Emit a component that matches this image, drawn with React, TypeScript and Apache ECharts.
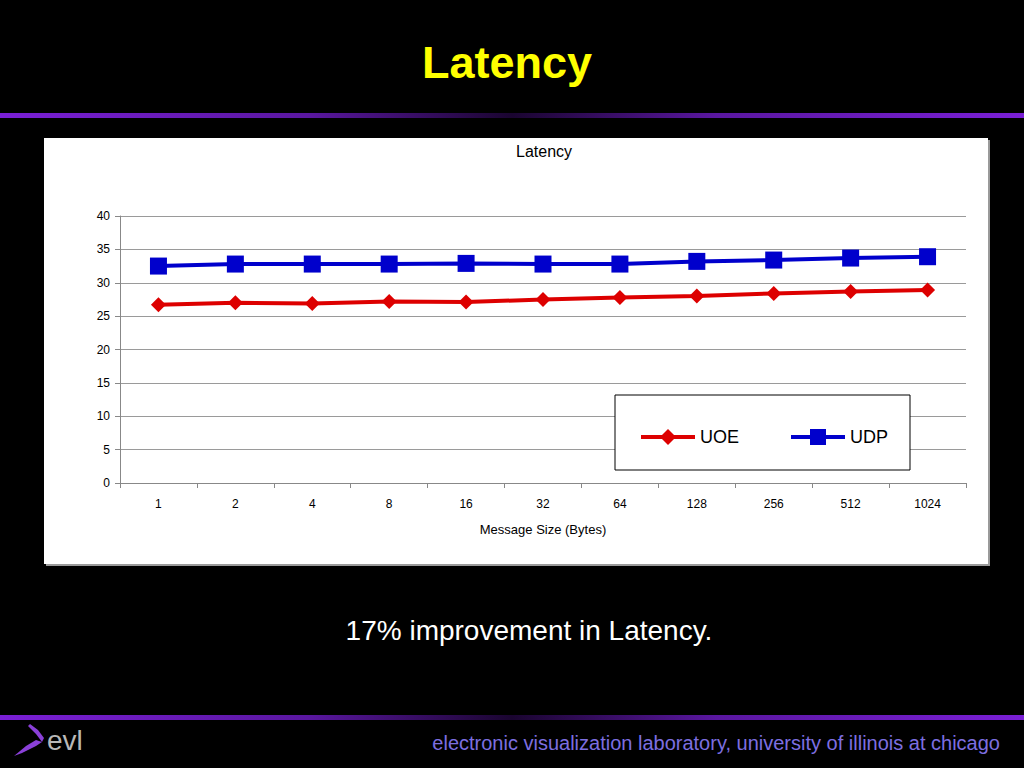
import React, { useEffect, useRef } from "react";
import * as echarts from "echarts";

const categories = ["1", "2", "4", "8", "16", "32", "64", "128", "256", "512", "1024"];
const uoeValues = [26.7, 27.0, 26.9, 27.2, 27.1, 27.5, 27.8, 28.0, 28.4, 28.7, 28.9];
const udpValues = [32.5, 32.8, 32.8, 32.8, 32.9, 32.8, 32.8, 33.2, 33.4, 33.7, 33.9];
const yTicks = { min: 0, max: 40, interval: 5 };

const FONT = "Liberation Sans, Arial, sans-serif";
const purpleGrad = () =>
  new echarts.graphic.LinearGradient(0, 0, 1, 0, [
    { offset: 0, color: "#7a1fd6" },
    { offset: 0.3, color: "#5a17a0" },
    { offset: 0.5, color: "#1a0530" },
    { offset: 0.7, color: "#5a17a0" },
    { offset: 1, color: "#7a1fd6" },
  ]);

export default function App() {
  const ref = useRef<HTMLDivElement>(null);
  useEffect(() => {
    if (!ref.current) return;
    const chart = echarts.init(ref.current, null, { renderer: "svg" });
    chart.setOption({
      animation: false,
      backgroundColor: "#000000",
      title: {
        text: "Latency",
        left: 544,
        top: 143,
        padding: 0,
        textAlign: "center",
        textStyle: { fontFamily: FONT, fontSize: 16, fontWeight: "normal", color: "#000" },
      },
      graphic: [
        {
          type: "text",
          x: 507,
          y: 62,
          style: {
            text: "Latency",
            fill: "#ffff00",
            font: `bold 45px ${FONT}`,
            align: "center",
            verticalAlign: "middle",
          },
        },
        { type: "rect", shape: { x: 0, y: 113, width: 1024, height: 5 }, style: { fill: purpleGrad() } },
        { type: "rect", shape: { x: 0, y: 715, width: 1024, height: 5 }, style: { fill: purpleGrad() } },
        { type: "rect", z: -2, shape: { x: 46, y: 140, width: 944, height: 426 }, style: { fill: "#9a9a9a" } },
        { type: "rect", z: -1, shape: { x: 44, y: 138, width: 944, height: 426 }, style: { fill: "#ffffff" } },
        {
          type: "rect",
          z: 1,
          shape: { x: 615, y: 395, width: 295, height: 75 },
          style: { fill: "#ffffff", stroke: "#000000", lineWidth: 1 },
        },
        {
          type: "text",
          x: 529,
          y: 630,
          style: {
            text: "17% improvement in Latency.",
            fill: "#ffffff",
            font: `28px ${FONT}`,
            align: "center",
            verticalAlign: "middle",
          },
        },
        {
          type: "text",
          x: 1000,
          y: 743,
          style: {
            text: "electronic visualization laboratory, university of illinois at chicago",
            fill: "#7d6fe0",
            font: `20px ${FONT}`,
            align: "right",
            verticalAlign: "middle",
          },
        },
        {
          type: "text",
          x: 47,
          y: 740,
          style: { text: "evl", fill: "#b8b8b8", font: `28px ${FONT}`, verticalAlign: "middle" },
        },
        {
          type: "polygon",
          shape: {
            points: [
              [14, 756], [26, 746], [36, 740], [42, 742], [36, 746], [22, 753],
            ],
          },
          style: { fill: "#8a40d8" },
        },
        {
          type: "polygon",
          shape: {
            points: [
              [30, 724], [38, 730], [44, 738], [42, 742], [36, 734], [28, 726],
            ],
          },
          style: { fill: "#8a40d8" },
        },
      ],
      legend: {
        left: 634,
        top: 423,
        itemWidth: 54,
        itemHeight: 20,
        itemGap: 50,
        z: 5,
        lineStyle: { width: 4 },
        textStyle: { fontFamily: FONT, fontSize: 18, color: "#000" },
        data: ["UOE", "UDP"],
      },
      grid: { left: 120, top: 216, width: 846, height: 267, containLabel: false },
      xAxis: {
        type: "category",
        data: categories,
        boundaryGap: true,
        name: "Message Size (Bytes)",
        nameLocation: "middle",
        nameGap: 40,
        nameTextStyle: { fontFamily: FONT, fontSize: 13, color: "#000" },
        axisLine: { lineStyle: { color: "#888", width: 1 } },
        axisTick: { show: true, alignWithLabel: false, length: 5, lineStyle: { color: "#888" } },
        axisLabel: { fontFamily: FONT, fontSize: 12, color: "#000", margin: 15 },
        splitLine: { show: false },
      },
      yAxis: {
        type: "value",
        min: yTicks.min,
        max: yTicks.max,
        interval: yTicks.interval,
        axisLine: { show: true, lineStyle: { color: "#888", width: 1 } },
        axisTick: { show: true, length: 5, lineStyle: { color: "#888" } },
        axisLabel: { fontFamily: FONT, fontSize: 12, color: "#000", margin: 10 },
        splitLine: { show: true, lineStyle: { color: "#9a9a9a", width: 1 } },
      },
      series: [
        {
          name: "UOE",
          type: "line",
          data: uoeValues,
          symbol: "diamond",
          symbolSize: 15,
          color: "#dd0000",
          lineStyle: { color: "#dd0000", width: 4 },
          itemStyle: { color: "#dd0000" },
        },
        {
          name: "UDP",
          type: "line",
          data: udpValues,
          symbol: "rect",
          symbolSize: 17,
          color: "#0000cc",
          lineStyle: { color: "#0000cc", width: 4 },
          itemStyle: { color: "#0000cc" },
        },
      ],
    });
    return () => chart.dispose();
  }, []);
  return (
    <div
      ref={ref}
      style={{ position: "fixed", left: 0, top: 0, width: 1024, height: 768, background: "#000" }}
    />
  );
}
